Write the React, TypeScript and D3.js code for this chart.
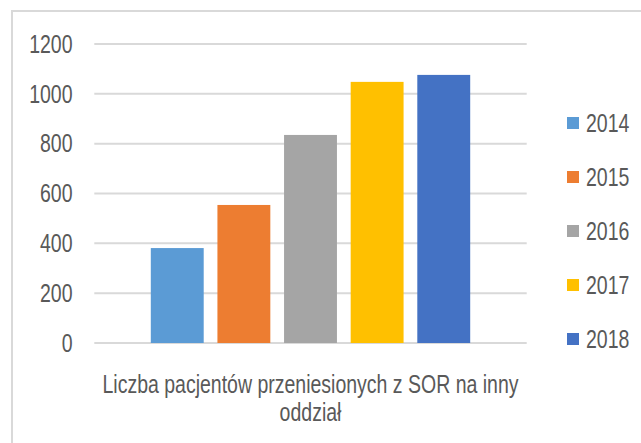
import React from "react";
import * as d3 from "d3";

const category = "Liczba pacjentów przeniesionych z SOR na inny oddział";
const titleLines = ["Liczba pacjentów przeniesionych z SOR na inny", "oddział"];
const series = ["2014", "2015", "2016", "2017", "2018"];
const values = [381, 554, 835, 1048, 1076];
const colors = ["#5B9BD5", "#ED7D31", "#A5A5A5", "#FFC000", "#4472C4"];
const yTicks = [0, 200, 400, 600, 800, 1000, 1200];

const W = 641;
const H = 443;
const FONT = "'Liberation Sans Narrow', 'Liberation Sans', sans-serif";
const TEXT = "#595959";
const SX = 0.78;

function NText({ x, y, anchor, dy, children }: { x: number; y: number; anchor?: string; dy?: string; children: React.ReactNode }) {
  return (
    <text transform={`translate(${x},${y}) scale(${SX},1)`} dy={dy} textAnchor={anchor || "start"} fontSize={25} fill={TEXT}>
      {children}
    </text>
  );
}

export default function App() {
  const plotLeft = 94.3;
  const plotRight = 526.7;
  const y = d3.scaleLinear().domain([0, 1200]).range([343, 44]);
  const outer = d3.scaleBand<string>().domain([category]).range([plotLeft, plotRight]).paddingOuter(0).paddingInner(0);
  const bx0 = outer(category)! + 56.5;
  const bx1 = outer(category)! + outer.bandwidth() - 56.5;
  const inner = d3.scaleBand<string>().domain(series).range([bx0, bx1]).paddingInner(0.206).paddingOuter(0);
  const legendY = d3.scalePoint<string>().domain(series).range([123, 339]);

  return (
    <svg width={W} height={H} style={{ position: "absolute", left: 0, top: 0, background: "#fff" }} fontFamily={FONT}>
      <rect x={12} y={11} width={W} height={H} fill="#fff" stroke="#d9d9d9" strokeWidth={2} />
      {yTicks.map((t) => (
        <g key={t}>
          <line x1={plotLeft} x2={plotRight} y1={y(t)} y2={y(t)} stroke="#d9d9d9" strokeWidth={2} />
          <NText x={72.5} y={y(t)} dy="0.35em" anchor="end">
            {t}
          </NText>
        </g>
      ))}
      {series.map((s, i) => (
        <rect key={s} x={inner(s)} width={inner.bandwidth()} y={y(values[i])} height={y(0) - y(values[i])} fill={colors[i]} />
      ))}
      {titleLines.map((l, i) => (
        <NText key={i} x={(plotLeft + plotRight) / 2} y={393 + i * 28} anchor="middle">
          {l}
        </NText>
      ))}
      {series.map((s, i) => (
        <g key={s}>
          <rect x={567} y={legendY(s)! - 6} width={12} height={12} fill={colors[i]} />
          <NText x={586} y={legendY(s)!} dy="0.35em">
            {s}
          </NText>
        </g>
      ))}
    </svg>
  );
}
